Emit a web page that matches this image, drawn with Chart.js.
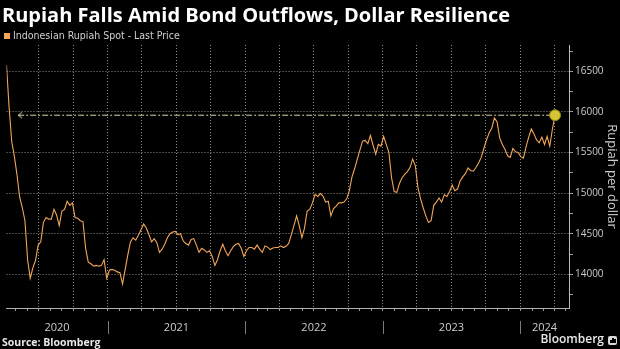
<!DOCTYPE html>
<html>
<head>
<meta charset="utf-8">
<script src="https://cdn.jsdelivr.net/npm/chart.js@4.4.0/dist/chart.umd.min.js"></script>
<style>
  html, body { margin: 0; padding: 0; background: #000; }
  #wrap { position: relative; width: 620px; height: 349px; overflow: hidden; background: #000; font-family: 'Open Sans', sans-serif; }
  #chart { position: absolute; left: 0; top: 0; }
  #title { position: absolute; left: 2px; top: 1px; color: #fff; font-weight: 700; font-size: 20px; line-height: 27px; white-space: nowrap; }
  #legend { position: absolute; left: 4px; top: 29px; height: 12px; color: #cfcfcf; font-size: 10.5px; line-height: 12px; white-space: nowrap; font-family: 'Liberation Sans Narrow', 'DejaVu Sans Condensed', Roboto, sans-serif; }
  #legend .box { position: absolute; left: 0; top: 4px; width: 6px; height: 6px; background: #f2a65a; }
  #legend .txt { position: absolute; left: 9px; top: 0; }
  #source { position: absolute; left: 2px; top: 335px; color: #e8e8e8; font-weight: 700; font-size: 10.5px; line-height: 14px; white-space: nowrap; }
  #brand { position: absolute; right: 16px; top: 331px; color: #e8e8e8; font-weight: 600; font-size: 12px; line-height: 16px; white-space: nowrap; }
  #logo { position: absolute; left: 608px; top: 336px; width: 9px; height: 9px; background: #d8d8d8; border-radius: 2px; }
  #logo i { position: absolute; bottom: 2px; width: 1.5px; background: #000; }
</style>
</head>
<body>
<div id="wrap">
  <canvas id="chart" width="620" height="349"></canvas>
  <div id="title">Rupiah Falls Amid Bond Outflows, Dollar Resilience</div>
  <div id="legend"><span class="box"></span><span class="txt">Indonesian Rupiah Spot - Last Price</span></div>
  <div id="source">Source: Bloomberg</div>
  <div id="brand">Bloomberg</div>
  <div id="logo"><i style="left:2px;height:3px"></i><i style="left:4px;height:5px"></i><i style="left:6px;height:4px"></i></div>
</div>
<script>
// ---- data (weekly readings of USD/IDR) ----
const dates = [
  '2020-04-07','2020-04-14','2020-04-21','2020-04-28','2020-05-05','2020-05-12','2020-05-19','2020-05-26',
  '2020-06-02','2020-06-09','2020-06-16','2020-06-23','2020-06-30','2020-07-07','2020-07-14','2020-07-21','2020-07-28',
  '2020-08-04','2020-08-11','2020-08-18','2020-08-25','2020-09-01','2020-09-08','2020-09-15','2020-09-22','2020-09-29',
  '2020-10-06','2020-10-13','2020-10-20','2020-10-27','2020-11-03','2020-11-10','2020-11-17','2020-11-24',
  '2020-12-01','2020-12-08','2020-12-15','2020-12-22','2020-12-29',
  '2021-01-05','2021-01-12','2021-01-19','2021-01-26','2021-02-02','2021-02-09','2021-02-16','2021-02-23',
  '2021-03-02','2021-03-09','2021-03-16','2021-03-23','2021-03-30','2021-04-06','2021-04-13','2021-04-20','2021-04-27',
  '2021-05-04','2021-05-11','2021-05-18','2021-05-25','2021-06-01','2021-06-08','2021-06-15','2021-06-22','2021-06-29',
  '2021-07-06','2021-07-13','2021-07-20','2021-07-27','2021-08-03','2021-08-10','2021-08-17','2021-08-24','2021-08-31',
  '2021-09-07','2021-09-14','2021-09-21','2021-09-28','2021-10-05','2021-10-12','2021-10-19','2021-10-26',
  '2021-11-02','2021-11-09','2021-11-16','2021-11-23','2021-11-30','2021-12-07','2021-12-14','2021-12-21','2021-12-28',
  '2022-01-04','2022-01-11','2022-01-18','2022-01-25','2022-02-01','2022-02-08','2022-02-15','2022-02-22',
  '2022-03-01','2022-03-08','2022-03-15','2022-03-22','2022-03-29','2022-04-05','2022-04-12','2022-04-19','2022-04-26',
  '2022-05-03','2022-05-10','2022-05-17','2022-05-24','2022-05-31','2022-06-07','2022-06-14','2022-06-21','2022-06-28',
  '2022-07-05','2022-07-12','2022-07-19','2022-07-26','2022-08-02','2022-08-09','2022-08-16','2022-08-23','2022-08-30',
  '2022-09-06','2022-09-13','2022-09-20','2022-09-27','2022-10-04','2022-10-11','2022-10-18','2022-10-25',
  '2022-11-01','2022-11-08','2022-11-15','2022-11-22','2022-11-29','2022-12-06','2022-12-13','2022-12-20','2022-12-27',
  '2023-01-03','2023-01-10','2023-01-17','2023-01-24','2023-01-31','2023-02-07','2023-02-14','2023-02-21','2023-02-28',
  '2023-03-07','2023-03-14','2023-03-21','2023-03-28','2023-04-04','2023-04-11','2023-04-18','2023-04-25',
  '2023-05-02','2023-05-09','2023-05-16','2023-05-23','2023-05-30','2023-06-06','2023-06-13','2023-06-20','2023-06-27',
  '2023-07-04','2023-07-11','2023-07-18','2023-07-25','2023-08-01','2023-08-08','2023-08-15','2023-08-22','2023-08-29',
  '2023-09-05','2023-09-12','2023-09-19','2023-09-26','2023-10-03','2023-10-10','2023-10-17','2023-10-24','2023-10-31',
  '2023-11-07','2023-11-14','2023-11-21','2023-11-28','2023-12-05','2023-12-12','2023-12-19','2023-12-26',
  '2024-01-02','2024-01-09','2024-01-16','2024-01-23','2024-01-30','2024-02-06','2024-02-13','2024-02-20','2024-02-27',
  '2024-03-05','2024-03-12','2024-03-19','2024-03-26','2024-04-02'
];
const rupiah = [
  16575,16050,15630,15450,15220,14950,14820,14660,14180,13950,
  14080,14170,14360,14400,14640,14700,14680,14680,14800,14730,
  14600,14780,14800,14900,14850,14880,14700,14690,14660,14650,
  14320,14150,14130,14100,14110,14100,14110,14180,13950,
  14050,14060,14050,14030,14020,13880,14060,14240,14400,14450,14420,
  14480,14550,14620,14570,14490,14400,14440,14390,14270,14310,
  14370,14450,14500,14520,14530,14490,14500,14410,14380,14360,
  14430,14440,14360,14270,14320,14300,14270,14290,14220,14110,
  14180,14290,14370,14290,14230,14290,14340,14370,14380,14320,14220,
  14290,14330,14330,14310,14360,14310,14270,14350,14335,14305,14325,
  14330,14330,14350,14330,14345,14380,14490,14600,14720,14600,
  14450,14570,14780,14800,14880,14985,14960,14995,14965,14890,
  14900,14720,14810,14840,14880,14880,14890,14930,15030,15200,
  15300,15420,15530,15640,15650,15610,15710,15590,15480,15600,15580,
  15700,15600,15500,15190,15020,15010,15120,15190,15230,15265,15315,
  15420,15340,15070,14930,14820,14720,14640,14660,14850,14890,
  14940,14890,14980,14960,15020,15100,15030,15050,15150,15200,
  15240,15310,15280,15270,15315,15370,15440,15550,15655,15740,
  15800,15925,15880,15680,15600,15540,15460,15440,15550,15510,15500,
  15450,15430,15570,15690,15790,15730,15655,15620,15690,15600,15700,15580,15790,15960
];
const seriesName = 'Indonesian Rupiah Spot - Last Price';
const yTickValues = [13750,14000,14250,14500,14750,15000,15250,15500,15750,16000,16250,16500,16750];
const yLabelStep = 500;
const yearLabels = ['2020','2021','2022','2023','2024'];
const yearLabelDates = ['2020-08-19','2021-07-02','2022-07-02','2023-07-02','2024-03-05'];
const yearStartDates = ['2021-01-01','2022-01-01','2023-01-01','2024-01-01'];
const xMinDate = '2020-04-07';
const xMaxDate = '2024-05-09';
const yMin = 13585, yMax = 16825;
const refLineStartDate = '2020-05-08';

// ---- helpers ----
const toMs = s => Date.parse(s + 'T00:00:00Z');
const lineColor = '#f2a65a';
const gridColor = '#8c8c8c';
const labelColor = '#cccccc';

// x ticks: month starts (tick marks, quarterly grid) + year centres (labels)
const xMin = toMs(xMinDate), xMax = toMs(xMaxDate);
const xTicks = [];
for (let y = 2020; y <= 2024; y++) {
  for (let m = 0; m < 12; m++) {
    const v = Date.UTC(y, m, 1);
    if (v > xMin && v <= xMax) xTicks.push({ value: v, kind: m % 3 === 0 ? 'q' : 'm', label: '' });
  }
}
yearLabels.forEach((lab, i) => xTicks.push({ value: toMs(yearLabelDates[i]), kind: 'label', label: lab }));
xTicks.sort((a, b) => a.value - b.value);

const lastIdx = rupiah.length - 1;
const lastPoint = { x: toMs(dates[lastIdx]), y: rupiah[lastIdx] };

// open chevron used as the start marker of the reference line
const arrow = document.createElement('canvas');
arrow.width = 12; arrow.height = 10;
(function () {
  const c = arrow.getContext('2d');
  c.strokeStyle = '#d9d4a8'; c.lineWidth = 1;
  c.beginPath(); c.moveTo(10, 2); c.lineTo(6, 5); c.lineTo(10, 8); c.stroke();
})();

const yearSeparators = {
  id: 'yearSeparators',
  afterDraw(chart) {
    const sx = chart.scales.x, ctx = chart.ctx;
    ctx.save();
    ctx.strokeStyle = '#7a7a7a'; ctx.lineWidth = 1;
    yearStartDates.forEach(d => {
      const px = Math.round(sx.getPixelForValue(toMs(d))) + 0.5;
      ctx.beginPath(); ctx.moveTo(px, sx.top + 13); ctx.lineTo(px, sx.top + 26); ctx.stroke();
    });
    ctx.restore();
  }
};

Chart.defaults.font.family = "'Open Sans', sans-serif";
Chart.defaults.color = labelColor;

new Chart(document.getElementById('chart'), {
  type: 'line',
  data: {
    datasets: [
      {
        label: 'last',
        data: [lastPoint],
        showLine: false,
        pointRadius: 5.5,
        pointBackgroundColor: '#d4c630',
        pointBorderColor: '#8f8418',
        pointBorderWidth: 1
      },
      {
        label: seriesName,
        data: dates.map((d, i) => ({ x: toMs(d), y: rupiah[i] })),
        borderColor: lineColor,
        backgroundColor: lineColor,
        borderWidth: 1.1,
        pointRadius: 0,
        tension: 0
      },
      {
        label: 'reference',
        data: [{ x: toMs(refLineStartDate), y: rupiah[lastIdx] }, lastPoint],
        borderColor: '#d9d4a8',
        borderWidth: 1,
        borderDash: [6, 2, 2, 2],
        pointStyle: ctx => ctx.dataIndex === 0 ? arrow : 'circle',
        pointRadius: ctx => ctx.dataIndex === 0 ? 5 : 0,
        tension: 0
      }
    ]
  },
  options: {
    responsive: false,
    animation: false,
    devicePixelRatio: 1,
    layout: { padding: { top: 45, left: 0, right: 0, bottom: 0 } },
    plugins: { legend: { display: false }, tooltip: { enabled: false }, title: { display: false } },
    scales: {
      x: {
        type: 'linear',
        position: 'bottom',
        min: xMin,
        max: xMax,
        afterFit: s => { s.height = 41; },
        afterBuildTicks: s => { s.ticks = xTicks.map(t => ({ value: t.value })); },
        ticks: {
          autoSkip: false,
          maxRotation: 0,
          padding: 10,
          color: labelColor,
          font: { size: 11 },
          callback: (v, i) => xTicks[i] ? xTicks[i].label : ''
        },
        grid: {
          color: ctx => (xTicks[ctx.index] && xTicks[ctx.index].kind === 'q') ? gridColor : 'rgba(0,0,0,0)',
          tickColor: ctx => (xTicks[ctx.index] && xTicks[ctx.index].kind !== 'label') ? '#9a9a9a' : 'rgba(0,0,0,0)',
          tickLength: 3,
          lineWidth: 1
        },
        border: { display: true, color: '#b0b0b0', width: 1, dash: [1, 2] }
      },
      y: {
        type: 'linear',
        position: 'right',
        min: yMin,
        max: yMax,
        afterFit: s => { s.width = 51; },
        afterBuildTicks: s => { s.ticks = yTickValues.map(v => ({ value: v })); },
        ticks: {
          padding: 2,
          color: labelColor,
          font: { size: 10 },
          callback: v => (v % yLabelStep === 0 ? String(v) : '')
        },
        grid: {
          color: ctx => (ctx.tick && ctx.tick.value % yLabelStep === 0) ? gridColor : 'rgba(0,0,0,0)',
          tickColor: '#a0a0a0',
          tickLength: 4,
          lineWidth: 1
        },
        border: { display: true, color: '#b8b8b8', width: 1, dash: [1, 2] },
        title: {
          display: true,
          text: 'Rupiah per dollar',
          color: labelColor,
          font: { size: 13 },
          padding: { top: 0, bottom: 0 }
        }
      }
    }
  },
  plugins: [yearSeparators]
});
</script>
</body>
</html>
